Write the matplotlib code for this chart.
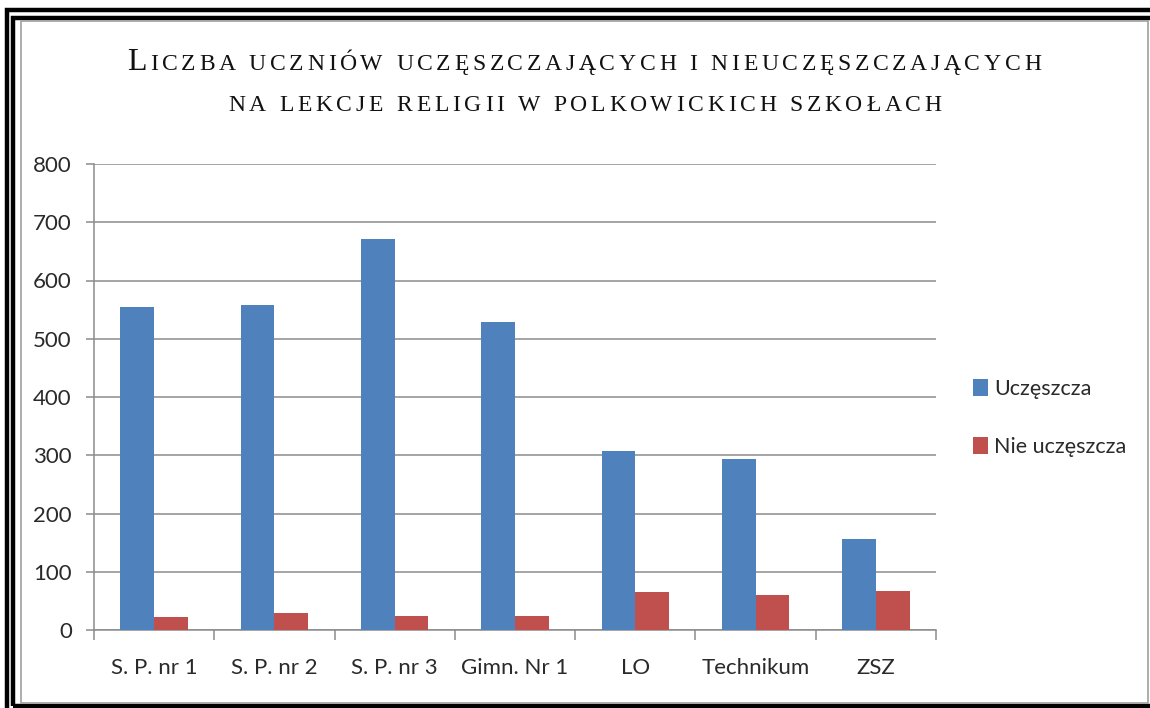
import numpy as np
import matplotlib.pyplot as plt
from matplotlib.patches import Rectangle

# data
szkoly = ['S. P. nr 1', 'S. P. nr 2', 'S. P. nr 3', 'Gimn. Nr 1', 'LO', 'Technikum', 'ZSZ']
uczeszcza = [555, 558, 671, 528, 307, 293, 156]
nie_uczeszcza = [22, 29, 24, 24, 65, 60, 67]

W, H = 1150, 708
fig = plt.figure(figsize=(W / 100, H / 100), dpi=100)
fig.patch.set_facecolor('white')

# double black frame + thin grey inner line
fig.patches.append(Rectangle((7 / W, -20 / H), 1.2, (H - 10 + 20) / H, transform=fig.transFigure,
                             fill=False, ec='black', lw=3.2))
fig.patches.append(Rectangle((13.5 / W, 2 / H), 1.2, (H - 17.5 - 2) / H, transform=fig.transFigure,
                             fill=False, ec='black', lw=3.2))
fig.patches.append(Rectangle((20.5 / W, 5 / H), (1148 - 20.5) / W, (H - 21 - 5) / H,
                             transform=fig.transFigure, fill=False, ec='#a0a0a0', lw=1.2))

ax = fig.add_axes([94 / W, 78 / H, 842 / W, 466 / H])
x = np.arange(len(szkoly))
w = 0.28
ax.bar(x - w / 2, uczeszcza, w, color='#4F81BD', label='Uczęszcza', zorder=3)
ax.bar(x + w / 2, nie_uczeszcza, w, color='#C0504D', label='Nie uczęszcza', zorder=3)

ax.set_xlim(-0.5, len(szkoly) - 0.5)
ax.set_ylim(0, 800)
ax.set_yticks(range(0, 801, 100))
ax.set_xticks(x)
ax.set_xticklabels(szkoly)
ax.set_xticks(np.arange(-0.5, len(szkoly)), minor=True)
ax.yaxis.grid(True, color='#8c8c8c', lw=1.1, zorder=0)
for s in ['top', 'right']:
    ax.spines[s].set_visible(False)
for s in ['left', 'bottom']:
    ax.spines[s].set_color('#8c8c8c')
    ax.spines[s].set_linewidth(1.1)
ax.tick_params(axis='y', length=6, color='#8c8c8c', width=1.1, pad=10,
               labelsize=16, labelcolor='#2a2a2a')
ax.tick_params(axis='x', which='major', length=0, pad=20, labelsize=16, labelcolor='#2a2a2a')
ax.tick_params(axis='x', which='minor', length=7, color='#8c8c8c', width=1.1)
for lab in ax.get_xticklabels() + ax.get_yticklabels():
    lab.set_family(['Lato', 'DejaVu Sans'])

leg = ax.legend(loc='center left', bbox_to_anchor=(954 / W, (H - 418) / H),
                bbox_transform=fig.transFigure, frameon=False,
                handlelength=0.7, handleheight=0.8, handletextpad=0.25,
                labelspacing=1.75, prop={'family': 'Lato', 'size': 15.5})
for t in leg.get_texts():
    t.set_color('#2a2a2a')


# title in small caps with letter spacing
def spaced_line(parts, y_px, center_px, track):
    r = fig.canvas.get_renderer()
    items = []
    for txt, size in parts:
        for ch in txt:
            t = fig.text(0, 1 - y_px / H, ch, fontsize=size, family='Liberation Serif',
                         va='baseline', ha='left', color='#111111')
            if ch == ' ':
                cw = size * 0.25 * 100 / 72
            else:
                cw = t.get_window_extent(r).width
            items.append((t, cw))
    total = sum(cw + track for _, cw in items) - track
    xp = center_px - total / 2
    for t, cw in items:
        t.set_x(xp / W)
        xp += cw + track


spaced_line([('L', 23), ('ICZBA UCZNIÓW UCZĘSZCZAJĄCYCH I NIEUCZĘSZCZAJĄCYCH', 17)], 70, 584, 3.7)
spaced_line([('NA LEKCJE RELIGII W POLKOWICKICH SZKOŁACH', 17)], 111, 585, 3.7)

fig.savefig('out.png', dpi=100)
